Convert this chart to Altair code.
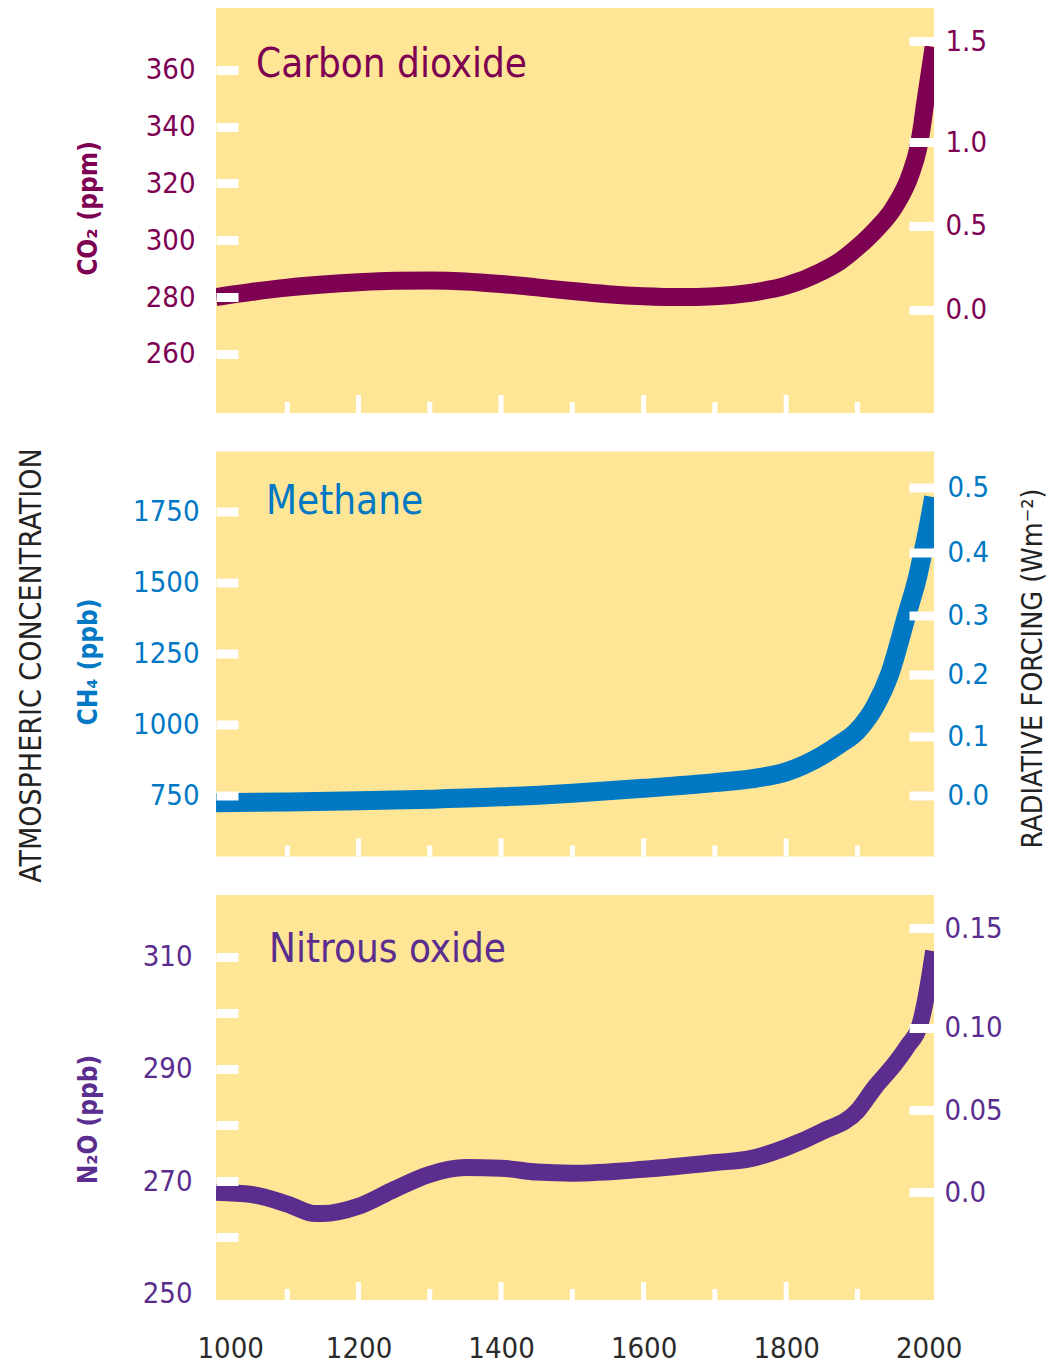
import altair as alt
import pandas as pd

# ---------------- data ----------------
co2_years = [1000, 1050, 1100, 1150, 1200, 1250, 1300, 1350, 1400, 1450, 1500, 1550, 1600,
             1650, 1700, 1750, 1800, 1850, 1875, 1900, 1925, 1950, 1975, 1985, 1990, 1995, 2007]
co2_ppm = [280.0, 281.8, 283.3, 284.4, 285.2, 285.7, 285.8, 285.5, 284.6, 283.4, 282.1, 281.0, 280.3,
           280.0, 280.3, 281.5, 284.0, 289.0, 292.5, 297.5, 303.5, 311.0, 323.5, 332.0, 339.0, 348.0, 368.0]

ch4_years = [1000, 1100, 1200, 1300, 1400, 1500, 1600, 1700, 1750, 1800, 1850, 1875, 1900,
             1925, 1945, 1969, 1985, 1992, 1995, 2007]
ch4_ppb = [724, 727, 731, 737, 745, 758, 775, 795, 808, 833, 890, 930, 978,
           1065, 1175, 1383, 1525, 1606, 1640, 1800]

n2o_years = [1000, 1050, 1100, 1140, 1150, 1200, 1250, 1300, 1350, 1400, 1450, 1500, 1600,
             1700, 1750, 1800, 1850, 1900, 1925, 1950, 1970, 1988, 1996, 2007]
n2o_ppb = [268.0, 267.6, 265.9, 264.2, 264.2, 265.5, 268.5, 271.2, 272.4, 272.3, 271.6, 271.4, 272.1,
           273.3, 274.0, 276.0, 278.8, 282.5, 286.8, 290.5, 294.0, 298.0, 302.5, 311.0]

# left (concentration) axis ticks
co2_ticks = [260, 280, 300, 320, 340, 360]
ch4_ticks = [750, 1000, 1250, 1500, 1750]
n2o_ticks = [250, 260, 270, 280, 290, 300, 310]

# right (radiative forcing) axis: labels and the concentration they sit at
co2_rf_labels = ["0.0", "0.5", "1.0", "1.5"]
co2_rf_at = [275.6, 305.1, 334.5, 370.0]
ch4_rf_labels = ["0.0", "0.1", "0.2", "0.3", "0.4", "0.5"]
ch4_rf_at = [750, 958, 1175, 1383, 1606, 1833]
n2o_rf_labels = ["0.0", "0.05", "0.10", "0.15"]
n2o_rf_at = [268.0, 282.6, 297.3, 315.1]

x_long = [1200, 1400, 1600, 1800]
x_short = [1100, 1300, 1500, 1700, 1900]
x_label_years = [1000, 1200, 1400, 1600, 1800, 2000]

panel_names = ["Carbon dioxide", "Methane", "Nitrous oxide"]
axis_titles = ["CO\u2082 (ppm)", "CH\u2084 (ppb)", "N\u2082O (ppb)"]
outer_titles = ["ATMOSPHERIC CONCENTRATION", "RADIATIVE FORCING (Wm\u207b\u00b2)"]

# ---------------- style ----------------
FONT = "DejaVu Sans Condensed"
YELLOW = "#FFE696"
C_CO2 = "#7E0052"
C_CH4 = "#0078C4"
C_N2O = "#5B2D8E"
W, H = 718, 405
XDOM = [1000, 2007.5]


def make_panel(years, vals, color, ydom, left_vals, left_pad, title, title_y,
               rf_at, rf_labels, rf_pad, name, name_x, name_y, stroke,
               bottom_labels=False, left_expr=None, tick_hide=None, extra=None):
    df = pd.DataFrame({"year": years, "value": vals})
    if bottom_labels:
        xaxis = alt.Axis(values=x_label_years, ticks=False, tickSize=0, domain=False, grid=False,
                         labelFont=FONT, labelFontSize=29, labelColor="#2b2b2b",
                         labelPadding=34, labelFlush=True, labelFlushOffset=19,
                         title=None, format="d")
    else:
        xaxis = None
    xenc = alt.X("year:Q", scale=alt.Scale(domain=XDOM, nice=False, zero=False), axis=xaxis)
    yscale = alt.Scale(domain=ydom, nice=False, zero=False)

    lkw = dict(values=left_vals, orient="left", offset=-22, tickSize=22, tickWidth=9,
               tickColor="white", domain=False, grid=False, labelColor=color,
               labelFont=FONT, labelFontSize=29, labelPadding=left_pad, format="d",
               title=title, titleColor=color, titleFont=FONT, titleFontSize=26,
               titleFontWeight="bold", titleX=-149.5, titleY=title_y, titleAngle=270,
               titleAlign="center", titleBaseline="middle", zindex=1)
    if left_expr:
        lkw["labelExpr"] = left_expr
    if tick_hide:
        lkw["tickOpacity"] = {"condition": {"test": tick_hide, "value": 0}, "value": 1}
    left_axis = alt.Axis(**lkw)

    arr_at = "[" + ",".join(str(v) for v in rf_at) + "]"
    arr_lb = "[" + ",".join("'" + s + "'" for s in rf_labels) + "]"
    right_axis = alt.Axis(values=rf_at, orient="right", offset=-25, tickSize=25, tickWidth=9,
                          tickColor="white", domain=False, grid=False, labelColor=color,
                          labelFont=FONT, labelFontSize=29, labelPadding=rf_pad,
                          labelExpr=arr_lb + "[indexof(" + arr_at + ", datum.value)]",
                          title=None, zindex=1)

    line = alt.Chart(df).mark_line(color=color, strokeWidth=stroke, interpolate="monotone",
                                   strokeCap="butt", clip=True).encode(
        x=xenc, y=alt.Y("value:Q", scale=yscale, axis=left_axis))
    ghost = alt.Chart(df).mark_line(opacity=0, clip=True).encode(
        x=xenc, y=alt.Y("value:Q", scale=yscale, axis=right_axis))
    tl = alt.Chart(pd.DataFrame({"year": x_long})).mark_rule(color="white", strokeWidth=5).encode(
        x=xenc, y=alt.value(H), y2=alt.value(H - 18))
    ts = alt.Chart(pd.DataFrame({"year": x_short})).mark_rule(color="white", strokeWidth=5).encode(
        x=xenc, y=alt.value(H), y2=alt.value(H - 11))
    lbl = alt.Chart(pd.DataFrame({"name": [name]})).mark_text(
        font=FONT, fontSize=40, color=color, align="left", baseline="alphabetic").encode(
        x=alt.value(name_x), y=alt.value(name_y), text="name:N")
    layers = [line, ghost, tl, ts, lbl] + (extra or [])
    return alt.layer(*layers).resolve_scale(y="independent").properties(width=W, height=H)


outer_left = alt.Chart(pd.DataFrame({"t": [outer_titles[0]]})).mark_text(
    font=FONT, fontSize=30, color="#222222", angle=270, align="center", baseline="middle").encode(
    x=alt.value(-184), y=alt.value(214), text="t:N")
outer_right = alt.Chart(pd.DataFrame({"t": [outer_titles[1]]})).mark_text(
    font=FONT, fontSize=28.5, color="#222222", angle=270, align="center", baseline="middle").encode(
    x=alt.value(W + 99), y=alt.value(217), text="t:N")

p1 = make_panel(co2_years, co2_ppm, C_CO2, [239.2, 381.7], co2_ticks, 21, axis_titles[0], 200,
                co2_rf_at, co2_rf_labels, 11, panel_names[0], 40, 69, 18)
p2 = make_panel(ch4_years, ch4_ppb, C_CH4, [535, 1961], ch4_ticks, 17, axis_titles[1], 210,
                ch4_rf_at, ch4_rf_labels, 13, panel_names[1], 50, 62, 19,
                extra=[outer_left, outer_right])
p3 = make_panel(n2o_years, n2o_ppb, C_N2O, [248.8, 321.0], n2o_ticks, 24, axis_titles[2], 224,
                n2o_rf_at, n2o_rf_labels, 10, panel_names[2], 53, 67, 17,
                bottom_labels=True,
                left_expr="datum.value % 20 == 10 ? datum.label : ''",
                tick_hide="datum.value == 250")

chart = alt.vconcat(p1, p2, p3, spacing=38.5, bounds="flush").properties(
    padding={"left": 9, "top": 0, "right": 5, "bottom": 0},
    background="white",
).configure_view(fill=YELLOW, stroke=None)

chart.save("out.html", embed_options={"renderer": "svg", "actions": False})
